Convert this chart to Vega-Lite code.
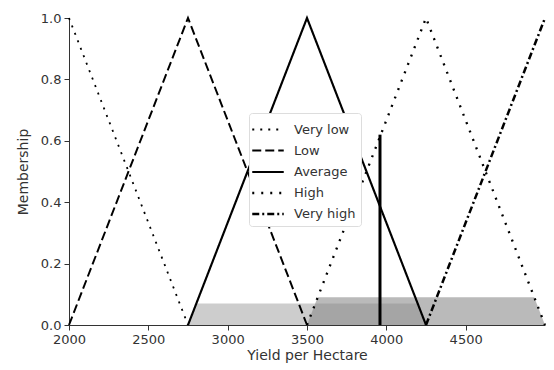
{
  "$schema": "https://vega.github.io/schema/vega-lite/v6.json",
  "autosize": "none",
  "width": 476,
  "height": 307,
  "padding": {"left": 69, "top": 18, "right": 9, "bottom": 45},
  "background": "white",
  "config": {
    "view": {"stroke": null},
    "font": "DejaVu Sans",
    "axis": {"grid": false, "domainColor": "#333", "tickColor": "#333", "labelColor": "#333", "titleColor": "#333", "labelFontSize": 13, "titleFontSize": 14, "titleFontWeight": "normal", "tickSize": 5, "labelPadding": 3, "labelFlush": false}
  },
  "datasets": {
    "mf": [
      {"series": "Very low", "x": 2000, "m": 1},
      {"series": "Very low", "x": 2750, "m": 0},
      {"series": "Low", "x": 2000, "m": 0},
      {"series": "Low", "x": 2750, "m": 1},
      {"series": "Low", "x": 3500, "m": 0},
      {"series": "Average", "x": 2750, "m": 0},
      {"series": "Average", "x": 3500, "m": 1},
      {"series": "Average", "x": 4250, "m": 0},
      {"series": "High", "x": 3500, "m": 0},
      {"series": "High", "x": 4250, "m": 1},
      {"series": "High", "x": 5000, "m": 0},
      {"series": "Very high", "x": 4250, "m": 0},
      {"series": "Very high", "x": 5000, "m": 1}
    ],
    "fillA": [
      {"x": 2750, "m": 0},
      {"x": 2802, "m": 0.07},
      {"x": 4198, "m": 0.07},
      {"x": 4250, "m": 0}
    ],
    "fillB": [
      {"x": 3500, "m": 0},
      {"x": 3567, "m": 0.09},
      {"x": 4932, "m": 0.09},
      {"x": 5000, "m": 0}
    ],
    "rule": [{"x": 3960, "m0": 0, "m1": 0.62}]
  },
  "layer": [
    {
      "data": {"name": "fillA"},
      "mark": {"type": "area", "color": "#888", "opacity": 0.42},
      "encoding": {
        "x": {"field": "x", "type": "quantitative", "scale": {"domain": [2000, 5000], "nice": false}, "axis": {"values": [2000, 2500, 3000, 3500, 4000, 4500], "title": "Yield per Hectare", "format": "d", "titlePadding": 2}},
        "y": {"field": "m", "type": "quantitative", "scale": {"domain": [0, 1], "nice": false}, "axis": {"values": [0, 0.2, 0.4, 0.6, 0.8, 1.0], "format": ".1f", "title": "Membership", "titlePadding": 10}}
      }
    },
    {
      "data": {"name": "fillB"},
      "mark": {"type": "area", "color": "#888", "opacity": 0.58},
      "encoding": {
        "x": {"field": "x", "type": "quantitative"},
        "y": {"field": "m", "type": "quantitative"}
      }
    },
    {
      "data": {"name": "mf"},
      "mark": {"type": "line", "color": "black"},
      "encoding": {
        "x": {"field": "x", "type": "quantitative"},
        "y": {"field": "m", "type": "quantitative"},
        "detail": {"field": "series"},
        "strokeDash": {
          "field": "series", "type": "nominal",
          "scale": {"domain": ["Very low", "Low", "Average", "High", "Very high"], "range": [[2, 6], [9, 4], [1, 0], [2, 7], [7, 3, 2, 3]]},
          "legend": {"title": null, "orient": "none", "legendX": 180, "legendY": 95, "symbolType": "M-1.5,0H1.5", "symbolSize": 441, "symbolStrokeColor": "black", "labelFontSize": 13, "labelColor": "#333", "padding": 5, "strokeColor": "#ddd", "fillColor": "white", "cornerRadius": 3, "rowPadding": 2, "labelOffset": 14, "symbolOffset": 2}
        },
        "strokeWidth": {
          "field": "series", "type": "nominal",
          "scale": {"domain": ["Very low", "Low", "Average", "High", "Very high"], "range": [1.8, 2.5, 2.5, 2, 2]},
          "legend": {"title": null, "orient": "none", "legendX": 180, "legendY": 95, "symbolType": "M-1.5,0H1.5", "symbolSize": 441, "symbolStrokeColor": "black", "labelFontSize": 13, "labelColor": "#333", "padding": 5, "strokeColor": "#ddd", "fillColor": "white", "cornerRadius": 3, "rowPadding": 2, "labelOffset": 14, "symbolOffset": 2}
        }
      }
    },
    {
      "data": {"name": "rule"},
      "mark": {"type": "rule", "color": "black", "strokeWidth": 3},
      "encoding": {
        "x": {"field": "x", "type": "quantitative"},
        "y": {"field": "m0", "type": "quantitative"},
        "y2": {"field": "m1"}
      }
    }
  ]
}
